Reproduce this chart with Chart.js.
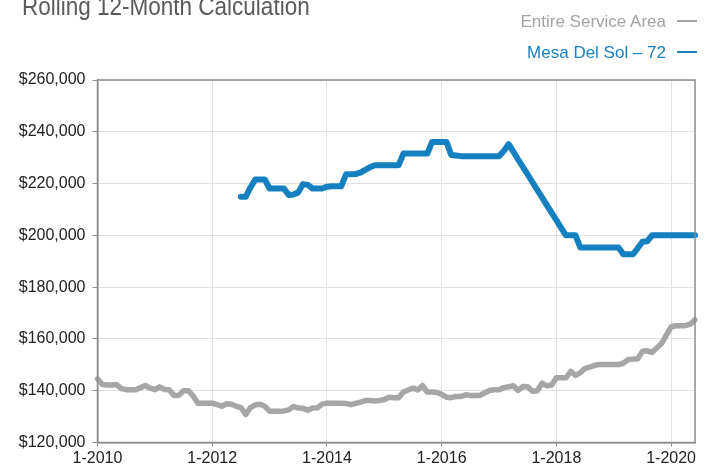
<!DOCTYPE html>
<html>
<head>
<meta charset="utf-8">
<script src="https://cdn.jsdelivr.net/npm/chart.js@4.4.1/dist/chart.umd.min.js"></script>
<style>
  html, body { margin: 0; padding: 0; background: #fff; overflow: hidden; }
  #wrap { position: relative; width: 711px; height: 468px; overflow: hidden; }
  #chartCanvas { position: absolute; left: 0; top: 0; }
  .title {
    position: absolute; left: 22px; top: -6px; line-height: 1;
    font-family: "Liberation Sans", Arial, sans-serif; font-size: 25px; color: #5a5a5a;
    transform: scaleX(0.9); transform-origin: left top; white-space: nowrap;
  }
  .legend-row {
    position: absolute; right: 14px; line-height: 1; white-space: nowrap;
    font-family: "Liberation Sans", Arial, sans-serif; font-size: 17px;
  }
  .legend-row .dash {
    display: inline-block; width: 20px; height: 1.5px; margin-left: 11px;
    vertical-align: 5px;
  }
</style>
</head>
<body>
<div id="wrap">
  <canvas id="chartCanvas" width="711" height="468"></canvas>
  <div class="title">Rolling 12-Month Calculation</div>
  <div class="legend-row" style="top:12.6px;color:#a3a3a3">Entire Service Area<span class="dash" style="background:#a3a3a3"></span></div>
  <div class="legend-row" style="top:43.6px;color:#1a80c1">Mesa Del Sol – 72<span class="dash" style="background:#1a80c1"></span></div>
</div>
<script>
// monthly, 1-2010 .. 6-2020
const startYear = 2010;
const monthCount = 126;
const months = [];
for (let i = 0; i < monthCount; i++) {
    months.push((i % 12 + 1) + '-' + (startYear + Math.floor(i / 12)));
}
const xTickLabels = ['1-2010', '1-2012', '1-2014', '1-2016', '1-2018', '1-2020'];
const yTicks = [120000, 140000, 160000, 180000, 200000, 220000, 240000, 260000];

const seriesNames = ['Entire Service Area', 'Mesa Del Sol – 72'];

const serviceArea = [
    144600, 142400, 142200, 142200, 142400, 140800, 140400, 140400, 140400, 141200, 142000, 141000,
    140400, 141500, 140500, 140400, 138200, 138200, 140000, 140000, 138000, 135200, 135200, 135200,
    135200, 134600, 134000, 135000, 134800, 134000, 133500, 130800, 133500, 134500, 134800, 134000,
    132100, 132100, 132100, 132200, 132600, 133900, 133300, 133200, 132500, 133300, 133400, 134800,
    135200, 135200, 135200, 135200, 135100, 134600, 135100, 135600, 136200, 136200, 136000, 136200,
    136600, 137500, 137300, 137300, 139500, 140300, 141000, 140300, 142000, 139500, 139500, 139300,
    138600, 137500, 137300, 137800, 137800, 138400, 138200, 138200, 138200, 139200, 140100, 140400,
    140400, 141200, 141500, 141900, 140100, 141600, 141500, 139800, 140000, 142900, 141900, 142200,
    145000, 145000, 145000, 147500, 145900, 147000, 148600, 149100, 149800, 150100, 150100, 150100,
    150100, 150100, 150600, 152000, 152200, 152300, 155200, 155400, 154800, 156500, 158200, 161500,
    164600, 165100, 165100, 165100, 165700, 167400
];

const mesaDelSol = [
    null, null, null, null, null, null, null, null, null, null, null, null,
    null, null, null, null, null, null, null, null, null, null, null, null,
    null, null, null, null, null, null, 214900, 214900, 218500, 221600, 221600, 221600,
    218100, 218100, 218100, 218100, 215600, 215800, 216600, 219800, 219500, 218100, 218100, 218100,
    218800, 219000, 219000, 219000, 223600, 223600, 223700, 224200, 225300, 226300, 227100, 227100,
    227100, 227100, 227100, 227100, 231600, 231600, 231600, 231600, 231600, 231600, 236100, 236100,
    236100, 236100, 231000, 230800, 230600, 230600, 230600, 230600, 230600, 230600, 230600, 230600,
    230600, 232600, 235200, 232300, 229300, 226400, 223500, 220500, 217600, 214700, 211700, 208800,
    205900, 202900, 200000, 200000, 200000, 195300, 195300, 195300, 195300, 195300, 195300, 195300,
    195300, 195300, 192700, 192700, 192700, 195000, 197500, 197700, 200000, 200000, 200000, 200000,
    200000, 200000, 200000, 200000, 200000, 200000
];

// frame around the plot area
const frameBox = {
    id: 'frameBox',
    afterDraw(chart) {
        const a = chart.chartArea;
        const ctx = chart.ctx;
        ctx.save();
        ctx.strokeStyle = '#8c8c8c';
        ctx.lineWidth = 1.5;
        ctx.strokeRect(a.left, a.top, a.right - a.left, a.bottom - a.top);
        ctx.restore();
    }
};

const ctx = document.getElementById('chartCanvas');

new Chart(ctx, {
    type: 'line',
    data: {
        labels: months,
        datasets: [
            {
                label: seriesNames[0],
                data: serviceArea,
                borderColor: '#a6a6a6',
                borderWidth: 5.5,
                pointRadius: 0,
                tension: 0,
                borderJoinStyle: 'round',
                borderCapStyle: 'round'
            },
            {
                label: seriesNames[1],
                data: mesaDelSol,
                borderColor: '#1580c0',
                borderWidth: 6,
                pointRadius: 0,
                tension: 0,
                spanGaps: false,
                borderJoinStyle: 'round',
                borderCapStyle: 'round'
            }
        ]
    },
    options: {
        responsive: false,
        animation: false,
        devicePixelRatio: 1,
        layout: { padding: { top: 80, right: 16, left: 0, bottom: 0 } },
        plugins: {
            legend: { display: false },
            title: { display: false },
            tooltip: { enabled: false }
        },
        scales: {
            x: {
                type: 'category',
                offset: false,
                afterFit: (scale) => { scale.height = 25.5; },
                grid: { color: '#e2e2e2', tickColor: '#8c8c8c', tickLength: 4, lineWidth: 1 },
                border: { color: '#8c8c8c', width: 1.5 },
                ticks: {
                    autoSkip: false,
                    maxRotation: 0,
                    minRotation: 0,
                    padding: 2,
                    color: '#222',
                    font: { family: '"Liberation Sans", Arial, sans-serif', size: 16 },
                    callback: function (value) {
                        const lbl = this.getLabelForValue(value);
                        return xTickLabels.includes(lbl) ? lbl : null;
                    }
                }
            },
            y: {
                min: yTicks[0],
                max: yTicks[yTicks.length - 1],
                afterFit: (scale) => { scale.width = 97.5; },
                afterBuildTicks: (scale) => { scale.ticks = yTicks.map(v => ({ value: v })); },
                grid: { color: '#e2e2e2', tickColor: '#8c8c8c', tickLength: 5, lineWidth: 1 },
                border: { color: '#8c8c8c', width: 1.5 },
                ticks: {
                    padding: 7,
                    color: '#222',
                    font: { family: '"Liberation Sans", Arial, sans-serif', size: 16 },
                    callback: (v) => '$' + Number(v).toLocaleString('en-US')
                }
            }
        }
    },
    plugins: [frameBox]
});
</script>
</body>
</html>
